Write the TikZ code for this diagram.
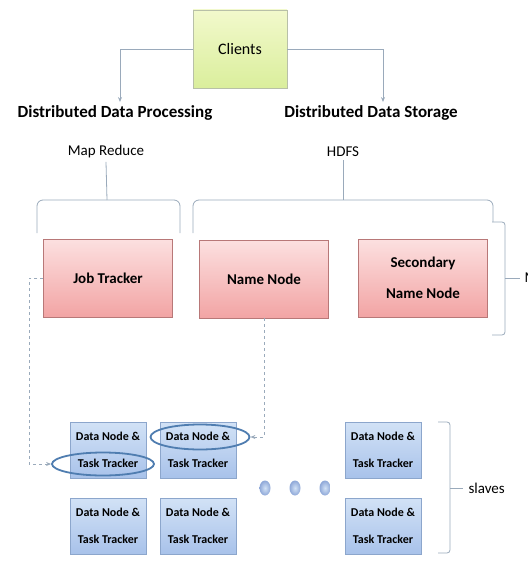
\documentclass[tikz,border=0pt]{standalone}
\usepackage{fontspec}
\setmainfont{Carlito}
\usetikzlibrary{arrows.meta,shapes.geometric}

\definecolor{linkgray}{HTML}{9AAABB}
\definecolor{clientline}{HTML}{B8C0A8}
\definecolor{clienttop}{HTML}{F2F9CC}
\definecolor{clientbot}{HTML}{DAEE9C}
\definecolor{masterline}{HTML}{B87878}
\definecolor{mastertop}{HTML}{FCE0E0}
\definecolor{masterbot}{HTML}{F2A4A4}
\definecolor{slaveline}{HTML}{8CA6CC}
\definecolor{slavetop}{HTML}{D2E2F6}
\definecolor{slavebot}{HTML}{A8C2EA}
\definecolor{dotrim}{HTML}{8FA8D8}
\definecolor{ringblue}{HTML}{4F7DB0}

\tikzset{
  client/.style={draw=clientline, top color=clienttop, bottom color=clientbot,
    minimum width=94pt, minimum height=78pt, font=\fontsize{16}{18}\selectfont},
  master/.style={draw=masterline, top color=mastertop, bottom color=masterbot, align=center,
    minimum width=129pt, minimum height=78pt, font=\bfseries\fontsize{15}{31}\selectfont},
  slave/.style={draw=slaveline, top color=slavetop, bottom color=slavebot, align=center,
    minimum width=76pt, minimum height=56pt, inner sep=1pt,
    font=\bfseries\fontsize{12}{27}\selectfont},
  title/.style={font=\bfseries\fontsize{17}{20}\selectfont},
  sub/.style={font=\fontsize{15}{17}\selectfont},
  link/.style={draw=linkgray, line width=0.8pt},
  ring/.style={draw=ringblue, line width=1.8pt, ellipse, inner sep=0pt},
  dot/.style={ellipse, minimum width=11pt, minimum height=15pt, inner sep=0pt,
    inner color=slavetop, outer color=dotrim}
}

\begin{document}
\begin{tikzpicture}[x=1pt, y=-1pt, >={Stealth[length=5pt,width=4pt]}]
  \useasboundingbox (0,0) rectangle (527,561);

  % top level
  \node[client] (cl) at (240,49) {Clients};
  \node[title] (proc) at (115,113) {Distributed Data Processing};
  \node[sub] (mr) at (106,152) {Map Reduce};
  \node[title] (stor) at (371,113) {Distributed Data Storage};
  \node[sub] (hdfs) at (343,152) {HDFS};

  \draw[link,->] (cl.west) -| ([xshift=5pt]proc.north);
  \draw[link,->] (cl.east) -| ([xshift=12pt]stor.north);

  % braces over the masters
  \coordinate (mrB) at (107,200);
  \coordinate (hdB) at (343,200);
  \draw[link, rounded corners=6pt] (37,233) -- (37,200) -- (180,200) -- (180,233);
  \draw[link, rounded corners=6pt] (193,233) -- (193,200) -- (493,200) -- (493,222);
  \draw[link] (mr.south) -- (mrB);
  \draw[link] (hdfs.south) -- (hdB);

  % masters
  \node[master] (jt) at (108,278) {Job Tracker};
  \node[master] (nn) at (264,279) {Name Node};
  \node[master] (snn) at (423,278) {Secondary\\Name Node};

  \coordinate (mB) at (505,278);
  \draw[link, rounded corners=3pt] (492,222) -- (505,222) -- (505,335) -- (492,335);
  \draw[link] (mB) -- ++(15,0);
  \node[sub, anchor=west] (mst) at (521,278) {Masters};

  % slaves
  \node[slave] (s11) at (108,450) {Data Node \&\\Task Tracker};
  \node[slave] (s12) at (198,450) {Data Node \&\\Task Tracker};
  \node[slave] (s13) at (383,450) {Data Node \&\\Task Tracker};
  \node[slave] (s21) at (108,526) {Data Node \&\\Task Tracker};
  \node[slave] (s22) at (198,526) {Data Node \&\\Task Tracker};
  \node[slave] (s23) at (383,526) {Data Node \&\\Task Tracker};

  \node[dot] (d1) at (265,488) {};
  \node[dot] (d2) at (295,488) {};
  \node[dot] (d3) at (325,488) {};

  \node[ring, minimum width=102pt, minimum height=23pt] (rA) at (103,464) {};
  \node[ring, minimum width=99pt, minimum height=25pt] (rB) at (200,437) {};

  \draw[link, dashed, ->] (jt.west) -- ++(-14,0) |- (rA.west);
  \draw[link, dashed, ->] (nn.south) |- (rB.east);

  \coordinate (sB) at (450,488);
  \draw[link, rounded corners=3pt] (438,422) -- (450,422) -- (450,553) -- (438,553);
  \draw[link] (sB) -- ++(13,0);
  \node[sub, anchor=west] (sl) at (465,488) {slaves};
\end{tikzpicture}
\end{document}
